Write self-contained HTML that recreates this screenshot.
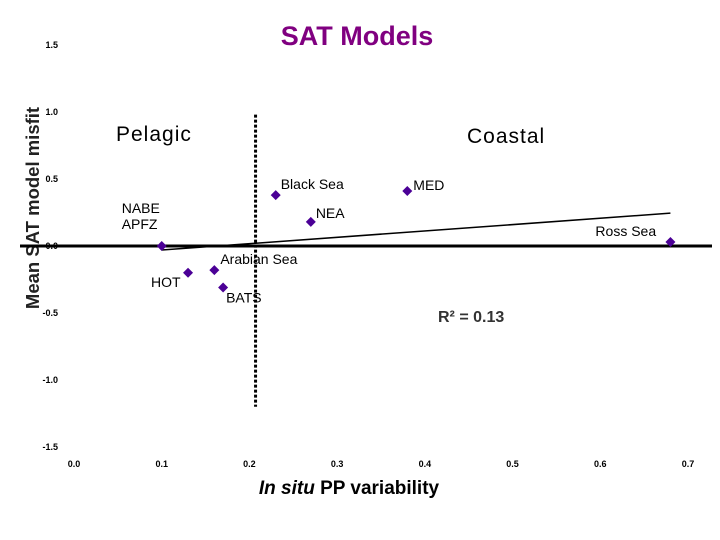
<!DOCTYPE html>
<html><head><meta charset="utf-8"><style>
body{margin:0;background:#fff;}
svg{display:block;font-family:"Liberation Sans",Arial,sans-serif;}
</style></head><body>
<svg id="c" width="720" height="540">
<text x="357" y="45" text-anchor="middle" font-size="27" font-weight="bold" fill="#800080">SAT Models</text>
<text transform="translate(39,208) rotate(-90)" text-anchor="middle" font-size="18.5" font-weight="bold" fill="#222">Mean SAT model misfit</text>
<text x="349" y="494" text-anchor="middle" font-size="19" font-weight="bold"><tspan font-style="italic">In situ</tspan> PP variability</text>
<text x="116" y="141" font-size="21" letter-spacing="1">Pelagic</text>
<text x="467" y="143" font-size="21" letter-spacing="1">Coastal</text>
<text x="438" y="322" font-size="16" font-weight="bold" fill="#333">R² = 0.13</text>
<g id="ticks"></g>
<g id="marks"></g>
</svg>
<script>
const xTicks=[0.0,0.1,0.2,0.3,0.4,0.5,0.6,0.7];
const yTicks=[1.5,1.0,0.5,0.0,-0.5,-1.0,-1.5];
const sites=["NABE\nAPFZ","HOT","Arabian Sea","BATS","Black Sea","NEA","MED","Ross Sea"];
const xVals=[0.10,0.13,0.16,0.17,0.23,0.27,0.38,0.68];
const yVals=[0.00,-0.20,-0.18,-0.31,0.38,0.18,0.41,0.03];
const fitX=[0.10,0.68];
const fitY=[-0.03,0.245];
const divider=0.207;
const X=v=>74+v*877.1;
const Y=v=>246-v*134;
const NS="http://www.w3.org/2000/svg";
const svg=document.getElementById('c');
const tg=document.getElementById('ticks'),mg=document.getElementById('marks');
function el(t,a,p){const e=document.createElementNS(NS,t);for(const k in a)e.setAttribute(k,a[k]);p.appendChild(e);return e;}
xTicks.forEach(v=>{const t=el('text',{x:X(v),y:467,'text-anchor':'middle','font-size':9,'font-weight':'bold'},tg);t.textContent=v.toFixed(1);

});
yTicks.forEach(v=>{const t=el('text',{x:58,y:Y(v)+3,'text-anchor':'end','font-size':9,'font-weight':'bold'},tg);t.textContent=v.toFixed(1);

});
const z=el('line',{x1:20,x2:712,y1:Y(0),y2:Y(0),stroke:'#000','stroke-width':3},mg);


const d=el('line',{x1:X(divider),x2:X(divider),y1:Y(0.98),y2:Y(-1.2),stroke:'#000','stroke-width':3,'stroke-dasharray':'3,2'},mg);


const f=el('line',{x1:X(fitX[0]),y1:Y(fitY[0]),x2:X(fitX[1]),y2:Y(fitY[1]),stroke:'#000','stroke-width':1.5},mg);


const lab=[[-40,-33],[-37,14],[6,-6],[3,15],[5,-6],[5,-4],[6,-1],[-75,-6]];
sites.forEach((s,i)=>{const cx=X(xVals[i]),cy=Y(yVals[i]);
const p=el('polygon',{points:`${cx},${cy-5} ${cx+5},${cy} ${cx},${cy+5} ${cx-5},${cy}`,fill:'#4B0096'},mg);


const t=el('text',{x:cx+lab[i][0],y:cy+lab[i][1],'font-size':14},mg);
s.split('\n').forEach((ln,j)=>{const ts=el('tspan',{x:cx+lab[i][0],dy:j?16:0},t);ts.textContent=ln;});

});
</script>
</body></html>
